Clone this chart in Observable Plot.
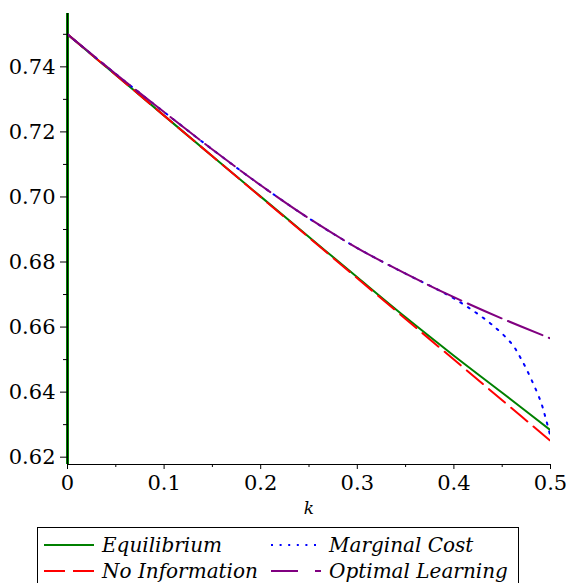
<!DOCTYPE html>
<html>
<head>
<meta charset="utf-8">
<script src="https://cdn.jsdelivr.net/npm/d3@7"></script>
<script src="https://cdn.jsdelivr.net/npm/@observablehq/plot@0.6"></script>
<style>
  body { margin: 0; background: #fff; font-family: 'DejaVu Serif', serif; }
  #chart { position: absolute; left: 0; top: 0; }
  #chart svg, #chart svg text { font-family: 'DejaVu Serif', serif !important; }
  #legend { position: absolute; left: 37px; top: 527px; width: 482px; height: 70px; border: 1px solid #000; box-sizing: border-box; background: #fff; }
  .item { position: absolute; height: 26px; display: flex; align-items: center; font-family: 'DejaVu Serif', serif; font-style: italic; font-size: 20px; color: #000; white-space: nowrap; }
  .item svg { margin-right: 8px; }
</style>
</head>
<body>
<div id="chart"></div>
<div id="legend"></div>
<script>
// ---- data ----
const kGrid = [0, 0.05, 0.10, 0.15, 0.20, 0.25, 0.30, 0.35, 0.40, 0.45, 0.50];
const equilibrium     = [0.7500, 0.7375, 0.7250, 0.7125, 0.7001, 0.6877, 0.6753, 0.6630, 0.6512, 0.6398, 0.6283];
const noInformation   = [0.7500, 0.7375, 0.7250, 0.7125, 0.7000, 0.6875, 0.6750, 0.6625, 0.6500, 0.6375, 0.6250];
const optimalLearning = [0.7500, 0.7378, 0.7261, 0.7146, 0.7036, 0.6934, 0.6843, 0.6764, 0.6692, 0.6626, 0.6565];
const mcK          = [0, 0.05, 0.10, 0.15, 0.20, 0.25, 0.30, 0.35, 0.38, 0.40, 0.42, 0.44, 0.46, 0.47, 0.48, 0.49, 0.495, 0.50];
const marginalCost = [0.7500, 0.7378, 0.7261, 0.7146, 0.7036, 0.6934, 0.6843, 0.6764, 0.6720, 0.6688, 0.6650, 0.6606, 0.6548, 0.6500, 0.6440, 0.6370, 0.6320, 0.6262];

const xTicks = [0, 0.1, 0.2, 0.3, 0.4, 0.5];
const xMinorTicks = [0.05, 0.15, 0.25, 0.35, 0.45];
const yTicks = [0.62, 0.64, 0.66, 0.68, 0.70, 0.72, 0.74];
const yMinorTicks = [0.63, 0.65, 0.67, 0.69, 0.71, 0.73, 0.75];
const xDomain = [0, 0.5];
const yDomain = [0.61775, 0.7564];

const seriesNames = ["Equilibrium", "No Information", "Marginal Cost", "Optimal Learning"];
const seriesColors = ["#008000", "#ff0000", "#0000ff", "#800080"];
const seriesDash = [null, "21,8", "2,7", "37,7"];
const legendDash = [null, "21,8", "2,6.6", "27,17,6,50"];
const xLabel = "k";

// ---- build tables ----
const seriesData = [
  kGrid.map((k, i) => ({k, v: equilibrium[i]})),
  kGrid.map((k, i) => ({k, v: noInformation[i]})),
  mcK.map((k, i) => ({k, v: marginalCost[i]})),
  kGrid.map((k, i) => ({k, v: optimalLearning[i]}))
];

const lineMarks = seriesData.map((d, i) => Plot.line(d, {
  x: "k", y: "v", stroke: seriesColors[i], strokeWidth: 2,
  strokeDasharray: seriesDash[i] || undefined, curve: "catmull-rom", clip: true
}));

const fmtX = d => d === 0 ? "0" : d3.format(".1f")(d);
const serif = "'DejaVu Serif', serif";

const chart = Plot.plot({
  width: 566,
  height: 526,
  marginLeft: 67,
  marginRight: 16,
  marginTop: 13,
  marginBottom: 62,
  style: "font-family: 'DejaVu Serif', serif; font-size: 21px; background: #fff; color: #000;",
  x: { domain: xDomain },
  y: { domain: yDomain },
  marks: [
    // Equilibrium spike at k = 0
    Plot.ruleX([0], { stroke: seriesColors[0], strokeWidth: 3 }),
    ...lineMarks,
    Plot.axisY(yMinorTicks.filter(t => t <= yDomain[1]), { tickSize: 4, tickFormat: () => "", label: null }),
    Plot.axisY(yTicks, { tickSize: 7, tickPadding: 5, tickFormat: d3.format(".2f"), label: null, fontSize: 21, fontFamily: serif }),
    Plot.axisX(xMinorTicks, { tickSize: 3, tickFormat: () => "", label: null }),
    Plot.axisX(xTicks, { tickSize: 5, tickPadding: 6, tickFormat: fmtX, label: null, fontSize: 21, fontFamily: serif }),
    Plot.ruleX([0], { stroke: "#000", strokeWidth: 1 }),
    Plot.ruleY([yDomain[0]], { stroke: "#000", strokeWidth: 1.2 }),
    Plot.text([xLabel], { text: d => d, frameAnchor: "bottom", dy: 49, fontStyle: "italic", fontSize: 17, fontFamily: serif })
  ]
});
document.getElementById("chart").appendChild(chart);

// ---- legend ----
const legendOrder = [0, 2, 1, 3];
const legendPos = [[6, 4], [233, 4], [6, 30], [233, 30]];
const legend = document.getElementById("legend");
legendOrder.forEach((si, j) => {
  const item = document.createElement("div");
  item.className = "item";
  item.style.left = legendPos[j][0] + "px";
  item.style.top = legendPos[j][1] + "px";
  const ns = "http://www.w3.org/2000/svg";
  const svg = document.createElementNS(ns, "svg");
  svg.setAttribute("width", 50); svg.setAttribute("height", 10);
  const ln = document.createElementNS(ns, "line");
  ln.setAttribute("x1", 0); ln.setAttribute("x2", 50);
  ln.setAttribute("y1", 5); ln.setAttribute("y2", 5);
  ln.setAttribute("stroke", seriesColors[si]);
  ln.setAttribute("stroke-width", 2);
  if (legendDash[si]) ln.setAttribute("stroke-dasharray", legendDash[si]);
  svg.appendChild(ln);
  item.appendChild(svg);
  const span = document.createElement("span");
  span.textContent = seriesNames[si];
  item.appendChild(span);
  legend.appendChild(item);
});
</script>
</body>
</html>
